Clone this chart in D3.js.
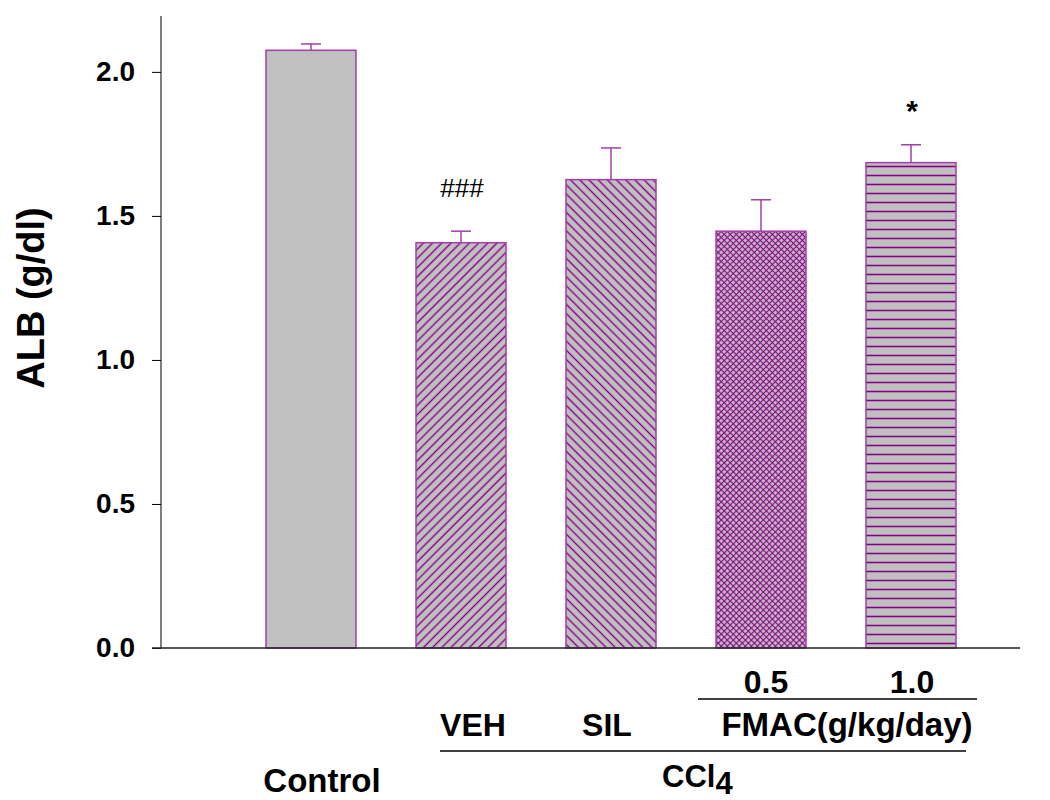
<!DOCTYPE html>
<html>
<head>
<meta charset="utf-8">
<script src="https://cdn.jsdelivr.net/npm/d3@7"></script>
<style>
  body { margin: 0; background: #fff; }
  svg { display: block; font-family: "Liberation Sans", Arial, sans-serif; }
</style>
</head>
<body>
<script>
// groups, values and SEM
const groups = ['Control', 'VEH', 'SIL', 'FMAC0.5', 'FMAC1.0'];
const means = [2.075, 1.407, 1.626, 1.447, 1.685];
const errors = [0.022, 0.040, 0.110, 0.109, 0.062];
const fills = ['solid', 'fwd', 'back', 'cross', 'horiz'];
const marks = ['', '###', '', '', '*'];
const yTicks = [0.0, 0.5, 1.0, 1.5, 2.0];

const width = 1050;
const height = 800;

const svg = d3.select('body')
  .append('svg')
  .attr('width', width)
  .attr('height', height);

const x = d3.scaleBand()
  .domain(groups)
  .range([236, 986])
  .paddingInner(0.4)
  .paddingOuter(0.2);

const y = d3.scaleLinear()
  .domain([0, 2.194])
  .range([648, 16]);

const purple = '#880088';
const edge = '#a040a8';

// hatch patterns
const defs = svg.append('defs');
function linePattern(id, size, angle, cross, sw) {
  const p = defs.append('pattern')
    .attr('id', id)
    .attr('patternUnits', 'userSpaceOnUse')
    .attr('width', size)
    .attr('height', size)
    .attr('patternTransform', `rotate(${angle})`);
  p.append('rect').attr('width', size).attr('height', size).attr('fill', '#c0c0c0');
  p.append('line')
    .attr('x1', 0).attr('y1', size / 2).attr('x2', size).attr('y2', size / 2)
    .attr('stroke', purple).attr('stroke-width', sw);
  if (cross) {
    p.append('line')
      .attr('x1', size / 2).attr('y1', 0).attr('x2', size / 2).attr('y2', size)
      .attr('stroke', purple).attr('stroke-width', sw);
  }
}
linePattern('fwd', 6.5, -45, false, 1.4);
linePattern('back', 6.5, 45, false, 1.4);
linePattern('cross', 4.25, 45, true, 1.1);
linePattern('horiz', 9, 0, false, 1.6);

const fillOf = (f) => f === 'solid' ? '#c0c0c0' : `url(#${f})`;

// bars
svg.selectAll('.bar')
  .data(groups)
  .join('rect')
  .attr('class', 'bar')
  .attr('x', (d) => x(d))
  .attr('y', (d, i) => y(means[i]))
  .attr('width', x.bandwidth())
  .attr('height', (d, i) => y(0) - y(means[i]))
  .attr('fill', (d, i) => fillOf(fills[i]))
  .attr('stroke', edge)
  .attr('stroke-width', 1.5);

// error bars
const cx = (d) => x(d) + x.bandwidth() / 2;
svg.selectAll('.err')
  .data(groups)
  .join('line')
  .attr('class', 'err')
  .attr('x1', cx).attr('x2', cx)
  .attr('y1', (d, i) => y(means[i]))
  .attr('y2', (d, i) => y(means[i] + errors[i]))
  .attr('stroke', edge)
  .attr('stroke-width', 1.5);

svg.selectAll('.cap')
  .data(groups)
  .join('line')
  .attr('class', 'cap')
  .attr('x1', (d) => cx(d) - 10).attr('x2', (d) => cx(d) + 10)
  .attr('y1', (d, i) => y(means[i] + errors[i]))
  .attr('y2', (d, i) => y(means[i] + errors[i]))
  .attr('stroke', edge)
  .attr('stroke-width', 1.5);

// significance marks
svg.selectAll('.mark')
  .data(groups)
  .join('text')
  .attr('class', 'mark')
  .attr('x', (d) => cx(d) + 1)
  .attr('y', (d, i) => i === 1 ? 197 : 121)
  .attr('text-anchor', 'middle')
  .style('font-size', (d, i) => i === 1 ? '26px' : '30px')
  .style('font-weight', (d, i) => i === 1 ? 'normal' : 'bold')
  .text((d, i) => marks[i]);

// y axis
const yAxis = svg.append('g')
  .attr('transform', 'translate(161,0)')
  .call(d3.axisLeft(y).tickValues(yTicks).tickSize(9).tickPadding(17).tickFormat(d3.format('.1f')));
yAxis.select('.domain').attr('d', `M0,${y(0)}V16`).attr('stroke', '#555').attr('stroke-width', 1.5);
yAxis.selectAll('.tick line').attr('stroke', '#000');
yAxis.selectAll('.tick text')
  .attr('fill', '#000')
  .style('font-size', '28px')
  .style('font-weight', 'bold')
  .style('font-family', '"Liberation Sans", Arial, sans-serif');

// x axis line
svg.append('line')
  .attr('x1', 152).attr('x2', 1020)
  .attr('y1', y(0)).attr('y2', y(0))
  .attr('stroke', '#222').attr('stroke-width', 1.5);

// y label
svg.append('text')
  .attr('transform', 'translate(44,298) rotate(-90)')
  .attr('text-anchor', 'middle')
  .style('font-size', '38px')
  .style('font-weight', 'bold')
  .text('ALB (g/dl)');

// bottom labels
const lab = (txt, xp, yp, size) => svg.append('text')
  .attr('x', xp).attr('y', yp)
  .attr('text-anchor', 'middle')
  .style('font-size', size)
  .style('font-weight', 'bold')
  .text(txt);

lab('0.5', 766, 693, '32px');
lab('1.0', 912, 693, '32px');
svg.append('line')
  .attr('x1', 698).attr('x2', 977).attr('y1', 699).attr('y2', 699)
  .attr('stroke', '#000').attr('stroke-width', 1.5);

lab('VEH', 473, 736, '32px');
lab('SIL', 607, 736, '32px');
lab('FMAC(g/kg/day)', 847, 736, '33px');
svg.append('line')
  .attr('x1', 440).attr('x2', 966).attr('y1', 751).attr('y2', 751)
  .attr('stroke', '#000').attr('stroke-width', 1.5);

lab('Control', 322, 792, '33px');
const ccl = svg.append('text')
  .attr('x', 662).attr('y', 787)
  .style('font-size', '31px')
  .style('font-weight', 'bold')
  .text('CCl');
ccl.append('tspan').attr('dy', 7).text('4');
</script>
</body>
</html>
